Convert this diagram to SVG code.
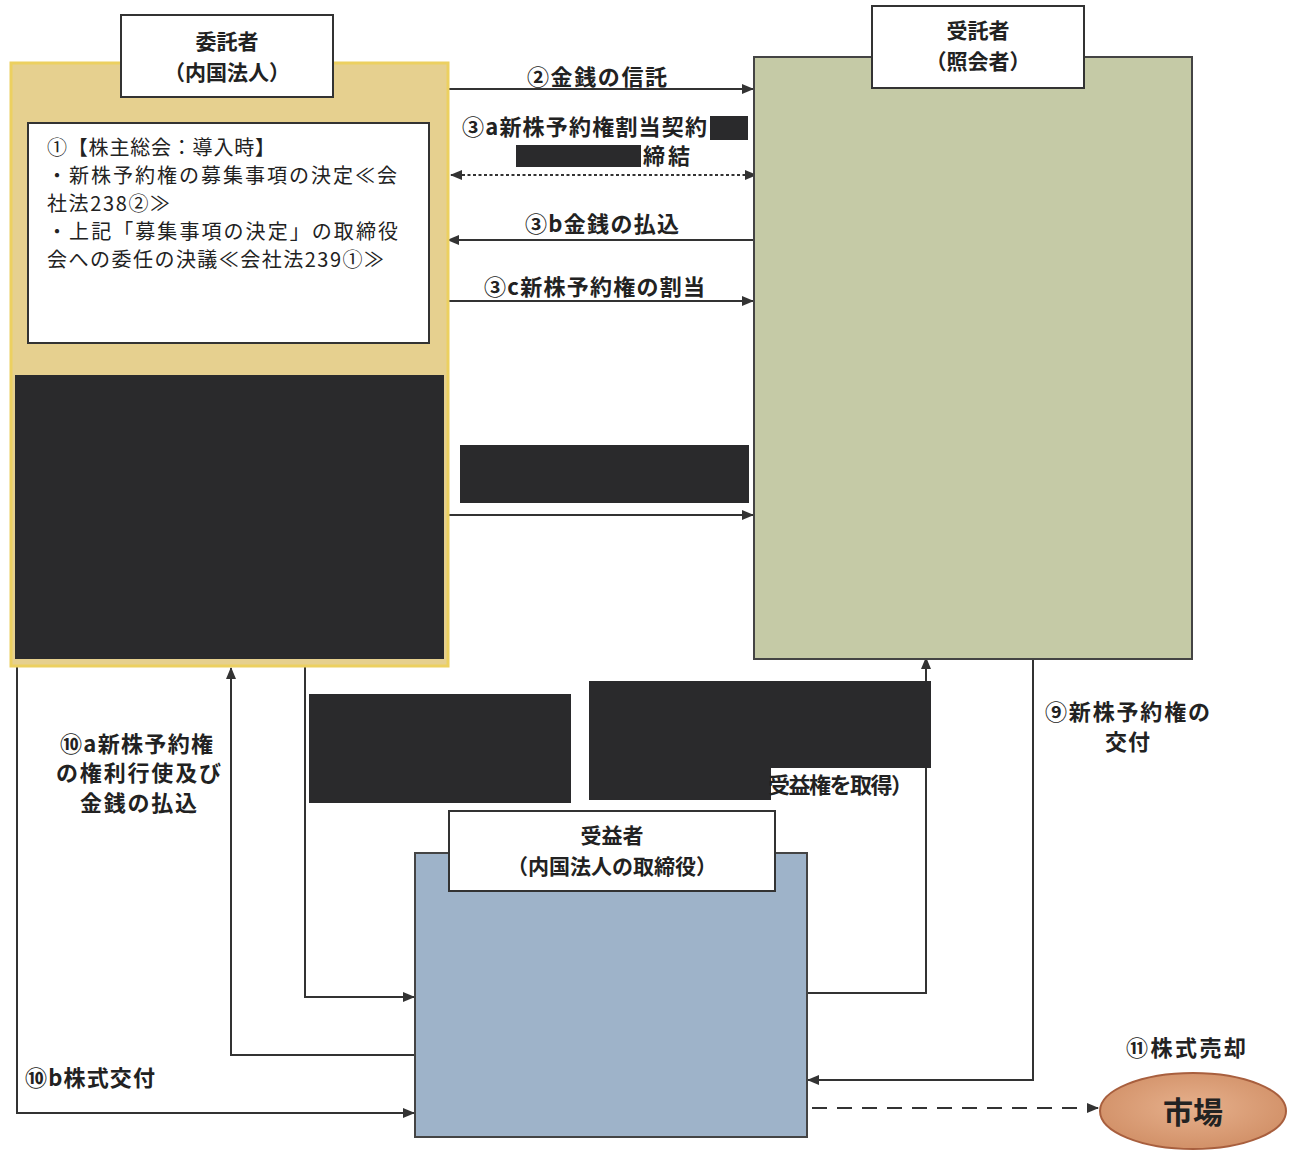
<svg xmlns="http://www.w3.org/2000/svg" width="1295" height="1153" viewBox="0 0 1295 1153">
<defs>
<style>
.t{font-family:"Noto Sans CJK JP","Noto Sans",sans-serif;fill:#222;}
.b{font-weight:bold;}
.lbl{font-size:22px;font-weight:bold;}
.ttl{font-size:21px;font-weight:bold;text-anchor:middle;}
.body{font-size:20px;}
.ln{fill:none;stroke:#333;stroke-width:2;}
.red{fill:#2a2a2c;}
.lb{fill:#fff;stroke:#333;stroke-width:2;}
</style>
<marker id="ah" markerWidth="12" markerHeight="10" refX="11" refY="5" orient="auto" markerUnits="userSpaceOnUse">
<path d="M0,0 L12,5 L0,10 Z" fill="#333"/>
</marker>
<marker id="ahs" markerWidth="12" markerHeight="10" refX="11" refY="5" orient="auto-start-reverse" markerUnits="userSpaceOnUse">
<path d="M0,0 L12,5 L0,10 Z" fill="#333"/>
</marker>
<radialGradient id="mk" cx="50%" cy="45%" r="60%">
<stop offset="0" stop-color="#e6b08c"/>
<stop offset="1" stop-color="#d08e65"/>
</radialGradient>
</defs>
<rect width="1295" height="1153" fill="#fff"/>

<g id="connectors">
<line class="ln" x1="449" y1="89" x2="753" y2="89" marker-end="url(#ah)"/>
<line class="ln" x1="451" y1="175" x2="756" y2="175" stroke-dasharray="3 2.5" stroke-width="4" marker-start="url(#ahs)" marker-end="url(#ahs)"/>
<line class="ln" x1="754" y1="240" x2="448" y2="240" marker-end="url(#ah)"/>
<line class="ln" x1="449" y1="301" x2="753" y2="301" marker-end="url(#ah)"/>
<line class="ln" x1="449" y1="515" x2="753" y2="515" marker-end="url(#ah)"/>
<polyline class="ln" points="17,667 17,1113 414,1113" marker-end="url(#ah)"/>
<polyline class="ln" points="415,1055 231,1055 231,668" marker-end="url(#ah)"/>
<polyline class="ln" points="305,667 305,997 414,997" marker-end="url(#ah)"/>
<polyline class="ln" points="807,993 926,993 926,658" marker-end="url(#ah)"/>
<polyline class="ln" points="1033,659 1033,1080 808,1080" marker-end="url(#ah)"/>
<line class="ln" x1="812" y1="1108" x2="1098" y2="1108" stroke-width="4" stroke-dasharray="15 10" marker-end="url(#ah)"/>
</g>

<g id="entrustor">
<rect x="11" y="63" width="437" height="603" fill="#e6d08f" stroke="#ecd060" stroke-width="3"/>
<rect class="lb" x="121" y="15" width="212" height="82"/>
<text class="t ttl" x="227" y="49">委託者</text>
<text class="t ttl" x="227" y="80">（内国法人）</text>
<rect x="28" y="123" width="401" height="220" fill="#fff" stroke="#333" stroke-width="2"/>
<text class="t body" x="47" y="155" textLength="228">①【株主総会：導入時】</text>
<text class="t body" x="47" y="183" textLength="350">・新株予約権の募集事項の決定≪会</text>
<text class="t body" x="47" y="211" textLength="123">社法238②≫</text>
<text class="t body" x="47" y="239" textLength="351">・上記「募集事項の決定」の取締役</text>
<text class="t body" x="47" y="267" textLength="337">会への委任の決議≪会社法239①≫</text>
<rect class="red" x="15" y="375" width="429" height="284"/>
</g>

<g id="trustee">
<rect x="754" y="57" width="438" height="602" fill="#c5caa6" stroke="#444" stroke-width="2"/>
<rect class="lb" x="872" y="6" width="212" height="82"/>
<text class="t ttl" x="978" y="38">受託者</text>
<text class="t ttl" x="978" y="69">（照会者）</text>
</g>

<g id="beneficiary">
<rect x="415" y="853" width="392" height="284" fill="#9eb3c9" stroke="#444" stroke-width="2"/>
<rect class="lb" x="449" y="811" width="326" height="80"/>
<text class="t ttl" x="612" y="843">受益者</text>
<text class="t ttl" x="612" y="874">（内国法人の取締役）</text>
</g>

<g id="market">
<ellipse cx="1193" cy="1111" rx="93" ry="38" fill="url(#mk)" stroke="#a85f3e" stroke-width="2"/>
<text class="t b" x="1193" y="1123" font-size="30" text-anchor="middle">市場</text>
</g>

<g id="labels">
<text class="t lbl" x="527" y="85" textLength="140">②金銭の信託</text>
<text class="t lbl" x="462" y="135" textLength="245">③a新株予約権割当契約</text>
<rect class="red" x="710" y="116" width="38" height="24"/>
<rect class="red" x="516" y="145" width="125" height="22"/>
<text class="t lbl" x="643" y="164" textLength="47">締結</text>
<text class="t lbl" x="525" y="232" textLength="154">③b金銭の払込</text>
<text class="t lbl" x="484" y="295" textLength="221">③c新株予約権の割当</text>
<rect class="red" x="460" y="445" width="289" height="58"/>
<rect class="red" x="309" y="694" width="262" height="109"/>
<path class="red" d="M589,681 H931 V768 H771 V800 H589 Z"/>
<text class="t lbl" x="768" y="793" textLength="145">受益権を取得）</text>
<text class="t lbl" x="60" y="752" textLength="153">⑩a新株予約権</text>
<text class="t lbl" x="56" y="781" textLength="165">の権利行使及び</text>
<text class="t lbl" x="80" y="811" textLength="117">金銭の払込</text>
<text class="t lbl" x="25" y="1086" textLength="130">⑩b株式交付</text>
<text class="t lbl" x="1045" y="720" textLength="165">⑨新株予約権の</text>
<text class="t lbl" x="1105" y="750" textLength="45">交付</text>
<text class="t lbl" x="1126" y="1056" textLength="120">⑪株式売却</text>
</g>
</svg>
